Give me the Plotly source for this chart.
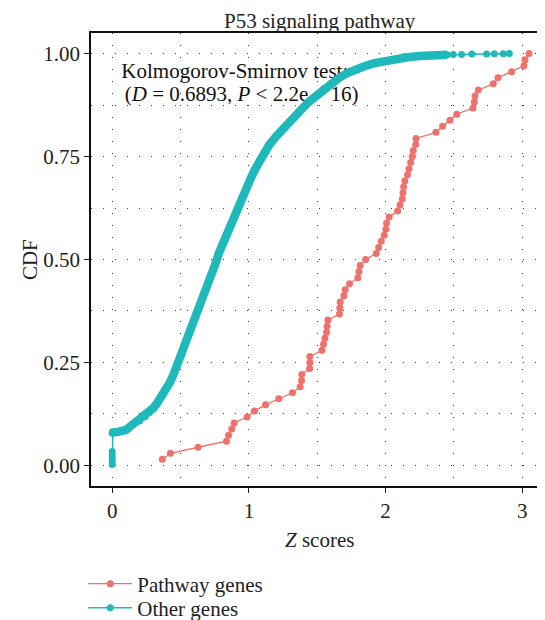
import plotly.graph_objects as go

# ---------------- data ----------------
pathway_z = [0.367, 0.426, 0.628, 0.836, 0.851, 0.875, 0.892, 0.987, 1.041, 1.122,
             1.219, 1.319, 1.375, 1.385, 1.387, 1.444, 1.446, 1.446, 1.534, 1.546,
             1.556, 1.568, 1.572, 1.578, 1.663, 1.665, 1.668, 1.695, 1.704, 1.736,
             1.797, 1.805, 1.814, 1.854, 1.931, 1.949, 1.968, 1.990, 2.002, 2.007,
             2.026, 2.088, 2.105, 2.122, 2.127, 2.132, 2.141, 2.161, 2.171, 2.183,
             2.195, 2.202, 2.220, 2.222, 2.368, 2.417, 2.471, 2.520, 2.639, 2.649,
             2.654, 2.678, 2.788, 2.822, 2.922, 3.012, 3.020, 3.049]
pathway_cdf = [0.0147, 0.0294, 0.0441, 0.0588, 0.0735, 0.0882, 0.1029, 0.1176, 0.1324, 0.1471,
               0.1618, 0.1765, 0.1912, 0.2059, 0.2206, 0.2353, 0.2500, 0.2647, 0.2794, 0.2941,
               0.3088, 0.3235, 0.3382, 0.3529, 0.3676, 0.3824, 0.3971, 0.4118, 0.4265, 0.4412,
               0.4559, 0.4706, 0.4853, 0.5000, 0.5147, 0.5294, 0.5441, 0.5588, 0.5735, 0.5882,
               0.6029, 0.6176, 0.6324, 0.6471, 0.6618, 0.6765, 0.6912, 0.7059, 0.7206, 0.7353,
               0.7500, 0.7647, 0.7794, 0.7941, 0.8088, 0.8235, 0.8382, 0.8529, 0.8676, 0.8824,
               0.8971, 0.9118, 0.9265, 0.9412, 0.9559, 0.9706, 0.9853, 1.0000]

# "Other genes": dense cluster at 0, then the thick curve, then the sparse tail
other_zero_z = [0.0, 0.0, 0.0, 0.0, 0.0]
other_zero_cdf = [0.002, 0.010, 0.018, 0.026, 0.034]
other_z = [0.0, 0.005, 0.05, 0.10, 0.14, 0.17, 0.20, 0.24, 0.27, 0.30,
           0.33, 0.36, 0.39, 0.42, 0.45, 0.48, 0.51, 0.54, 0.57, 0.60,
           0.63, 0.66, 0.69, 0.72, 0.75, 0.78, 0.81, 0.84, 0.87, 0.90,
           0.93, 0.96, 0.99, 1.02, 1.05, 1.08, 1.11, 1.15, 1.20, 1.25,
           1.30, 1.35, 1.40, 1.45, 1.50, 1.55, 1.60, 1.66, 1.72, 1.78,
           1.85, 1.92, 2.00, 2.08, 2.16, 2.25, 2.35, 2.45]
other_cdf = [0.078, 0.080, 0.082, 0.086, 0.097, 0.105, 0.108, 0.118, 0.128, 0.139,
             0.152, 0.167, 0.185, 0.200, 0.222, 0.247, 0.272, 0.300, 0.330, 0.355,
             0.378, 0.405, 0.430, 0.455, 0.485, 0.515, 0.540, 0.560, 0.583, 0.605,
             0.632, 0.655, 0.678, 0.702, 0.722, 0.742, 0.760, 0.779, 0.799, 0.818,
             0.836, 0.853, 0.870, 0.886, 0.900, 0.915, 0.928, 0.941, 0.953, 0.962,
             0.970, 0.977, 0.983, 0.987, 0.991, 0.994, 0.996, 0.997]
other_tail_z = [2.495, 2.556, 2.630, 2.739, 2.795, 2.861, 2.905]
other_tail_cdf = [0.998, 0.998, 0.999, 0.999, 0.9995, 0.9997, 1.0]

x_ticks = [0, 1, 2, 3]
y_ticks = [0.0, 0.25, 0.50, 0.75, 1.00]

title_text = "P53 signaling pathway"
ks_lines = ["Kolmogorov-Smirnov test:",
            "(<i>D</i> = 0.6893, <i>P</i> &lt; 2.2e \u2212 16)"]
ks_pos_z = [0.067, 0.092]
ks_pos_cdf = [0.953, 0.897]

RED = "#F0716B"
TEAL = "#1FB9BB"
FONT = "Liberation Serif"
FS = 21
GRID = dict(gridcolor="#3a3a3a", griddash="1px,11px", gridwidth=1)

all_other_z = other_zero_z + other_z + other_tail_z
all_other_cdf = other_zero_cdf + other_cdf + other_tail_cdf

fig = go.Figure()

# test annotation drawn first so the curve overlaps it
fig.add_trace(go.Scatter(x=ks_pos_z, y=ks_pos_cdf, mode="text", text=ks_lines,
                         textposition="middle right", showlegend=False, hoverinfo="skip",
                         textfont=dict(family=FONT, size=FS, color="#111111")))

# thick dense band of Other genes
fig.add_trace(go.Scatter(x=other_z, y=other_cdf, mode="lines", showlegend=False,
                         line=dict(color=TEAL, width=8.5), hoverinfo="skip"))
fig.add_trace(go.Scatter(x=all_other_z, y=all_other_cdf, mode="lines+markers",
                         name="Other genes", legend="legend2",
                         line=dict(color=TEAL, width=1.5),
                         marker=dict(color=TEAL, size=7)))
fig.add_trace(go.Scatter(x=pathway_z, y=pathway_cdf, mode="lines+markers",
                         name="Pathway genes", legend="legend",
                         line=dict(color=RED, width=1.3),
                         marker=dict(color=RED, size=7)))

axis_common = dict(showline=True, linecolor="#111111", linewidth=1.5,
                   ticks="outside", ticklen=5, tickwidth=1.3, tickcolor="#222222",
                   tickfont=dict(family=FONT, size=FS, color="#222222"),
                   zeroline=False, showgrid=True, **GRID)

fig.update_xaxes(range=[-0.155, 3.166], tickmode="array", tickvals=x_ticks,
                 ticktext=[str(v) for v in x_ticks], mirror=True,
                 minor=dict(tickmode="array", tickvals=[0.5, 1.5, 2.5], showgrid=True,
                            ticks="", **GRID),
                 **axis_common)
fig.update_yaxes(range=[-0.05, 1.05], tickmode="array", tickvals=y_ticks,
                 ticktext=["%.2f" % v for v in y_ticks],
                 minor=dict(tickmode="array", tickvals=[0.125, 0.375, 0.625, 0.875],
                            showgrid=True, ticks="", **GRID),
                 **axis_common)

legend_common = dict(xanchor="left", yanchor="middle",
                     font=dict(family=FONT, size=FS, color="#222222"),
                     itemwidth=44, bgcolor="rgba(0,0,0,0)")

# the page body has an 8px default margin, so the figure is offset by 8px
fig.update_layout(
    width=537, height=612,
    margin=dict(l=83, r=0, t=25, b=134, autoexpand=False),
    paper_bgcolor="white", plot_bgcolor="white",
    font=dict(family=FONT, size=FS, color="#222222"),
    showlegend=True,
    legend=dict(x=-0.017, y=(486 - 584) / 453, **legend_common),
    legend2=dict(x=-0.017, y=(486 - 608) / 453, **legend_common),
    annotations=[
        dict(text=title_text, x=0.504, y=1.0265, xref="paper", yref="paper",
             borderpad=0,
             showarrow=False, xanchor="center", yanchor="middle",
             font=dict(family=FONT, size=FS, color="#222222")),
        dict(text="<i>Z</i> scores", x=0.504, y=-0.119, xref="paper", yref="paper",
             showarrow=False, xanchor="center", yanchor="middle",
             font=dict(family=FONT, size=FS, color="#222222")),
        dict(text="CDF", x=-0.134, y=0.499, xref="paper", yref="paper", textangle=-90,
             showarrow=False, xanchor="center", yanchor="middle",
             font=dict(family=FONT, size=FS, color="#222222")),
    ],
)

fig.write_html("out.html")
